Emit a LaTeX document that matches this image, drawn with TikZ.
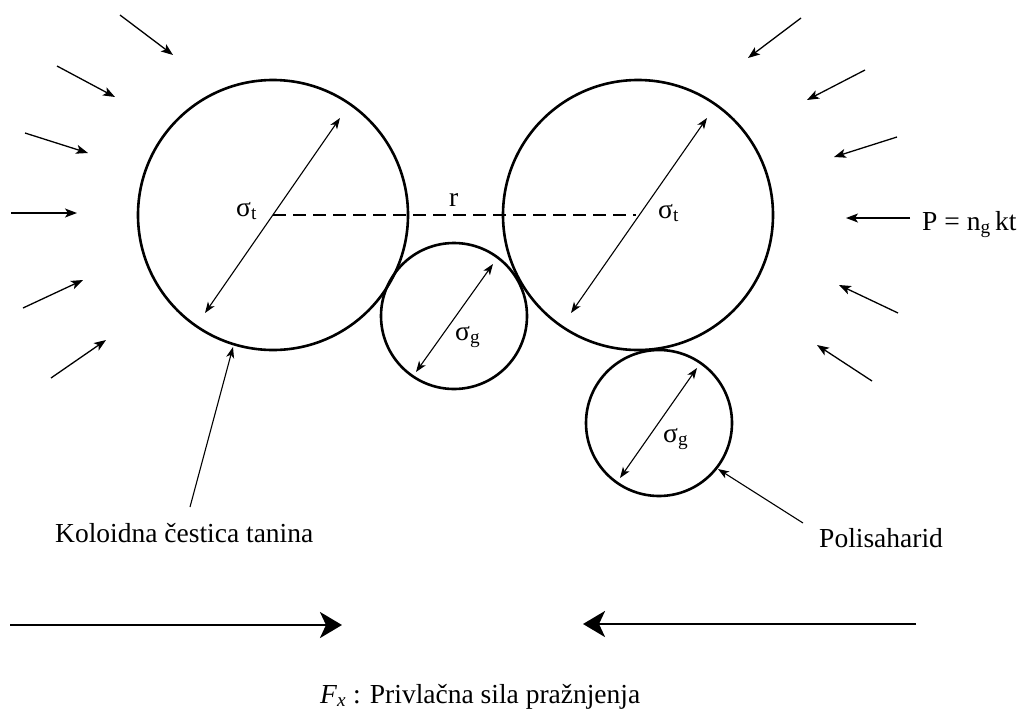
\documentclass[tikz,border=0pt]{standalone}
\usepackage{fontspec}
\setmainfont{Liberation Serif}
\usetikzlibrary{arrows.meta}
\begin{document}
\begin{tikzpicture}[x=1pt,y=-1pt,
  ball/.style={circle,draw,line width=2.6pt,inner sep=0pt},
  push/.style={line width=1.3pt,-{Stealth[length=12pt,width=9pt,inset=3pt]}},
  dim/.style={line width=1.1pt,{Stealth[length=11pt,width=8pt,inset=3pt]}-{Stealth[length=11pt,width=8pt,inset=3pt]}},
  pointer/.style={line width=1.1pt,-{Stealth[length=11pt,width=8pt,inset=3pt]}},
  force/.style={line width=2.8pt,-{Stealth[length=22pt,width=26pt,inset=6pt]}},
  lbl/.style={inner sep=0pt,anchor=base west,font=\fontsize{27.5}{33}\selectfont}]
\useasboundingbox (0,0) rectangle (1020,710);
% particles
\node[ball,minimum size=270pt] (L) at (273,215) {};
\node[ball,minimum size=270pt] (R) at (638,215) {};
\node[ball,minimum size=146pt] (M) at (454,316) {};
\node[ball,minimum size=146pt] (G) at (659,423) {};
% diameters
\coordinate (La) at (340,118); \coordinate (Lb) at (205,313);
\coordinate (Ra) at (707,118); \coordinate (Rb) at (571,313);
\coordinate (Ma) at (493,264); \coordinate (Mb) at (416,372);
\coordinate (Ga) at (697,368); \coordinate (Gb) at (620,478);
\draw[dim] (Lb) -- (La);
\draw[dim] (Rb) -- (Ra);
\draw[dim] (Mb) -- (Ma);
\draw[dim] (Gb) -- (Ga);
% dashed distance
\coordinate (De) at (636,215);
\draw[line width=1.2pt,dash pattern=on 13pt off 7pt] (L.center) -- (De);
% labels
\node[lbl] (sL) at (236,216) {σ\textsubscript{t}};
\node[lbl] (sR) at (658,218) {σ\textsubscript{t}};
\node[lbl] (rr) at (449,206) {r};
\node[lbl] (sM) at (455,340) {σ\textsubscript{g}};
\node[lbl] (sG) at (663,442) {σ\textsubscript{g}};
\node[lbl] (P) at (922,230) {P = n\textsubscript{g}\,kt};
% outer pressure arrows, left
\coordinate (a1s) at (120,15);  \coordinate (a1e) at (173,55);
\coordinate (a2s) at (57,66);   \coordinate (a2e) at (115,97);
\coordinate (a3s) at (25,133);  \coordinate (a3e) at (88,153);
\coordinate (a4s) at (11,213);  \coordinate (a4e) at (77,213);
\coordinate (a5s) at (23,308);  \coordinate (a5e) at (83,280);
\coordinate (a6s) at (51,378);  \coordinate (a6e) at (106,340);
\foreach \i in {1,...,6} {\draw[push] (a\i s) -- (a\i e);}
% outer pressure arrows, right
\coordinate (b1s) at (801,18);  \coordinate (b1e) at (748,58);
\coordinate (b2s) at (865,70);  \coordinate (b2e) at (807,100);
\coordinate (b3s) at (897,137); \coordinate (b3e) at (834,157);
\coordinate (b4s) at (910,218); \coordinate (b4e) at (846,218);
\coordinate (b5s) at (898,313); \coordinate (b5e) at (839,285);
\coordinate (b6s) at (872,381); \coordinate (b6e) at (817,345);
\foreach \i in {1,...,6} {\draw[push] (b\i s) -- (b\i e);}
% names
\node[lbl] (K) at (55,542) {Koloidna čestica tanina};
\node[lbl] (Po) at (819,547) {Polisaharid};
\coordinate (Ks) at (190,507); \coordinate (Ke) at (233,347);
\coordinate (Ps) at (803,523); \coordinate (Pe) at (718,469);
\draw[pointer] (Ks) -- (Ke);
\draw[pointer] (Ps) -- (Pe);
% attraction force
\coordinate (f1s) at (10,625);  \coordinate (f1e) at (342,625);
\coordinate (f2s) at (916,624); \coordinate (f2e) at (583,624);
\draw[force] (f1s) -- (f1e);
\draw[force] (f2s) -- (f2e);
\node[lbl] (F) at (320,703) {\textit{F}\textsubscript{\textit{x}} : Privlačna sila pražnjenja};
\end{tikzpicture}
\end{document}
